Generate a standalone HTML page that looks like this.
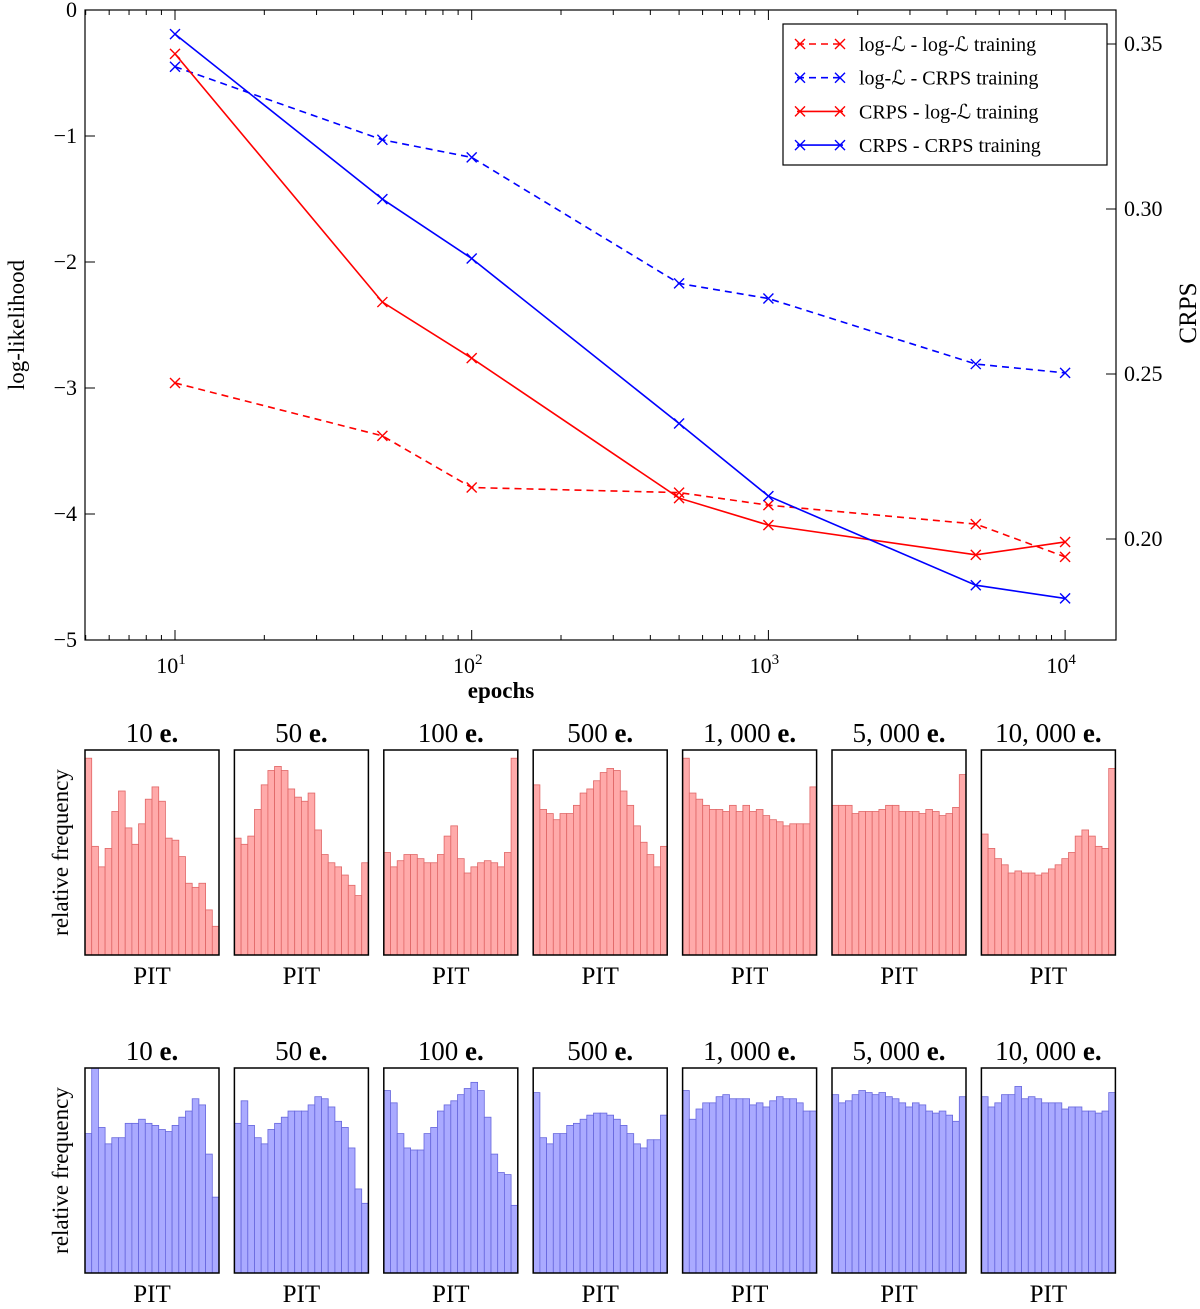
<!DOCTYPE html>
<html><head><meta charset="utf-8"><style>
body{margin:0;background:#fff}
svg text{font-family:"Liberation Serif",serif;fill:#000}
</style></head><body>
<svg id="s" width="1200" height="1304" xmlns="http://www.w3.org/2000/svg"></svg>
<script>
const epochs=[10,50,100,500,1000,5000,10000];
const llLogTrain=[-2.96,-3.38,-3.79,-3.83,-3.93,-4.08,-4.34];
const llCrpsTrain=[-0.45,-1.03,-1.17,-2.17,-2.29,-2.81,-2.88];
const crpsLogTrain=[0.347,0.2718,0.2548,0.2124,0.2042,0.1952,0.1991];
const crpsCrpsTrain=[0.353,0.303,0.285,0.235,0.213,0.186,0.182];
const leftTicks=[0,-1,-2,-3,-4,-5];
const leftTickLabels=["0","\u22121","\u22122","\u22123","\u22124","\u22125"];
const rightTicks=[0.20,0.25,0.30,0.35];
const rightTickLabels=["0.20","0.25","0.30","0.35"];
const xTicks=[1,2,3,4];
const histTitles=["10","50","100","500","1, 000","5, 000","10, 000"];
const redHists=[
[.96,.53,.43,.52,.70,.80,.62,.54,.64,.76,.82,.75,.57,.56,.48,.35,.33,.35,.22,.14],
[.57,.54,.58,.71,.83,.90,.92,.90,.81,.77,.75,.79,.61,.49,.45,.43,.39,.34,.29,.45],
[.50,.43,.46,.49,.49,.47,.45,.45,.49,.58,.63,.47,.40,.43,.45,.46,.45,.43,.50,.96],
[.83,.71,.69,.66,.69,.69,.73,.79,.81,.85,.89,.91,.90,.80,.73,.63,.55,.49,.43,.53],
[.96,.79,.76,.73,.71,.71,.70,.73,.70,.73,.70,.71,.68,.66,.65,.63,.64,.64,.64,.82],
[.73,.73,.73,.69,.70,.70,.70,.71,.73,.73,.70,.70,.70,.69,.71,.70,.68,.69,.72,.88],
[.59,.52,.47,.44,.40,.41,.40,.40,.39,.40,.42,.44,.47,.50,.58,.61,.58,.53,.52,.91]];
const blueHists=[
[.68,1.0,.71,.63,.66,.66,.73,.73,.75,.73,.72,.70,.69,.72,.76,.79,.85,.82,.58,.37],
[.73,.84,.72,.66,.63,.70,.73,.76,.79,.79,.79,.82,.86,.85,.81,.74,.71,.61,.41,.34],
[.89,.83,.68,.61,.60,.60,.68,.71,.79,.82,.84,.87,.90,.93,.89,.76,.58,.49,.48,.33],
[.88,.66,.63,.68,.68,.72,.73,.75,.77,.78,.78,.77,.75,.72,.68,.63,.61,.65,.65,.77],
[.89,.75,.80,.83,.83,.86,.87,.85,.85,.85,.82,.83,.81,.84,.86,.85,.85,.83,.79,.79],
[.87,.83,.84,.87,.89,.88,.87,.88,.86,.85,.83,.81,.83,.82,.79,.78,.79,.77,.74,.86],
[.86,.81,.83,.87,.87,.91,.85,.86,.85,.83,.83,.83,.80,.81,.81,.79,.79,.78,.79,.88]];

const NS="http://www.w3.org/2000/svg";
const svg=document.getElementById('s');
function mk(tag,attrs,parent,txt){const e=document.createElementNS(NS,tag);for(const k in attrs)e.setAttribute(k,attrs[k]);if(txt!==undefined)e.textContent=txt;(parent||svg).appendChild(e);return e;}

// main axes
const L=85,R=1116,T=10,B=640;
const xs=v=>175+(Math.log10(v)-1)*296.7;
const yl=v=>T+(0-v)*126;
const yr=v=>44+(0.35-v)*3300;
const g=mk('g',{});


// ticks
for(const d of [0,1,2,3,4]){for(let m=1;m<10;m++){const v=m*Math.pow(10,d);const x=xs(v);if(x<L||x>R)continue;const len=m===1?10:5;
mk('line',{x1:x,x2:x,y1:B,y2:B-len,stroke:'#000','stroke-width':1},g);mk('line',{x1:x,x2:x,y1:T,y2:T+len,stroke:'#000','stroke-width':1},g);}}
xTicks.forEach(p=>{const x=xs(Math.pow(10,p));const t=mk('text',{x:x-4,y:673,'font-size':22,'text-anchor':'middle'},g,'10');mk('tspan',{'font-size':15,dy:-9},t,String(p));});
leftTicks.forEach((v,i)=>{const y=yl(v);mk('line',{x1:L,x2:L+10,y1:y,y2:y,stroke:'#000'},g);const t=mk('text',{x:77,y:y+7,'font-size':22,'text-anchor':'end'},g,leftTickLabels[i]);});
rightTicks.forEach((v,i)=>{const y=yr(v);mk('line',{x1:R-10,x2:R,y1:y,y2:y,stroke:'#000'},g);const t=mk('text',{x:1124,y:y+7,'font-size':22},g,rightTickLabels[i]);});
function series(vals,ys,color,dash,name){const pts=vals.map((v,i)=>[xs(epochs[i]),ys(v)]);
const p=mk('polyline',{points:pts.map(q=>q.join(',')).join(' '),fill:'none',stroke:color,'stroke-width':1.6,'stroke-dasharray':dash?'7,5':'none'},g);

pts.forEach(q=>{const m=mk('path',{d:`M${q[0]-5},${q[1]-5}L${q[0]+5},${q[1]+5}M${q[0]-5},${q[1]+5}L${q[0]+5},${q[1]-5}`,stroke:color,'stroke-width':1.4},g);});}
series(llLogTrain,yl,'#f00',true,'ll-log-training-line');
series(llCrpsTrain,yl,'#00f',true,'ll-crps-training-line');
series(crpsLogTrain,yr,'#f00',false,'crps-log-training-line');
series(crpsCrpsTrain,yr,'#00f',false,'crps-crps-training-line');
mk('rect',{x:L,y:T,width:R-L,height:B-T,fill:'none',stroke:'#000','stroke-width':1.2},g);
// legend
const lg=mk('g',{},g);
mk('rect',{x:783,y:24,width:324,height:141,fill:'#fff',stroke:'#000','stroke-width':1.2},lg);
const legs=[['#f00',true,'log-\u2112 - log-\u2112 training'],['#00f',true,'log-\u2112 - CRPS training'],['#f00',false,'CRPS - log-\u2112 training'],['#00f',false,'CRPS - CRPS training']];
legs.forEach((l,i)=>{const y=44+i*33.7;const e=mk('g',{},lg);
mk('line',{x1:797,x2:843,y1:y,y2:y,stroke:l[0],'stroke-width':1.6,'stroke-dasharray':l[1]?'7,5':'none'},e);
[800,840].forEach(x=>mk('path',{d:`M${x-5},${y-5}L${x+5},${y+5}M${x-5},${y+5}L${x+5},${y-5}`,stroke:l[0],'stroke-width':1.4},e));
mk('text',{x:859,y:y+7,'font-size':20},e,l[2]);});
let t=mk('text',{x:0,y:0,'font-size':23,'text-anchor':'middle',transform:'translate(24,325) rotate(-90)'},g,'log-likelihood');
t=mk('text',{x:0,y:0,'font-size':25,'text-anchor':'middle',transform:'translate(1196,313) rotate(-90)'},g,'CRPS');
t=mk('text',{x:501,y:698,'font-size':23,'font-weight':'bold','text-anchor':'middle'},g,'epochs');

// histograms
function histRow(data,top,fill,stroke,rowName){
 const rg=mk('g',{});
 const H=205,W=134;
 data.forEach((vals,pi)=>{const x0=85+pi*149.4;const pg=mk('g',{},rg);
  const bw=W/vals.length;
  vals.forEach((v,bi)=>{const h=Math.min(v,1)*H;const b=mk('rect',{x:x0+bi*bw,y:top+H-h,width:bw,height:h,fill:fill,stroke:stroke,'stroke-width':0.8},pg);});
  mk('rect',{x:x0,y:top,width:W,height:H,fill:'none',stroke:'#000','stroke-width':1.5},pg);
  const tt=mk('text',{x:x0+W/2,y:top-8,'font-size':27,'text-anchor':'middle'},pg,histTitles[pi]+' ');
  mk('tspan',{'font-weight':'bold'},tt,'e.');
  const px=mk('text',{x:x0+W/2,y:top+H+29,'font-size':25,'text-anchor':'middle'},pg,'PIT');
 });
 const yt=mk('text',{x:0,y:0,'font-size':23,'text-anchor':'middle',transform:`translate(68,${top+H/2}) rotate(-90)`},rg,'relative frequency');
}
histRow(redHists,750,'#ffaaaa','#e06666','pit-row-log-training');
histRow(blueHists,1068,'#aaaaff','#6666dd','pit-row-crps-training');
</script>
</body></html>
